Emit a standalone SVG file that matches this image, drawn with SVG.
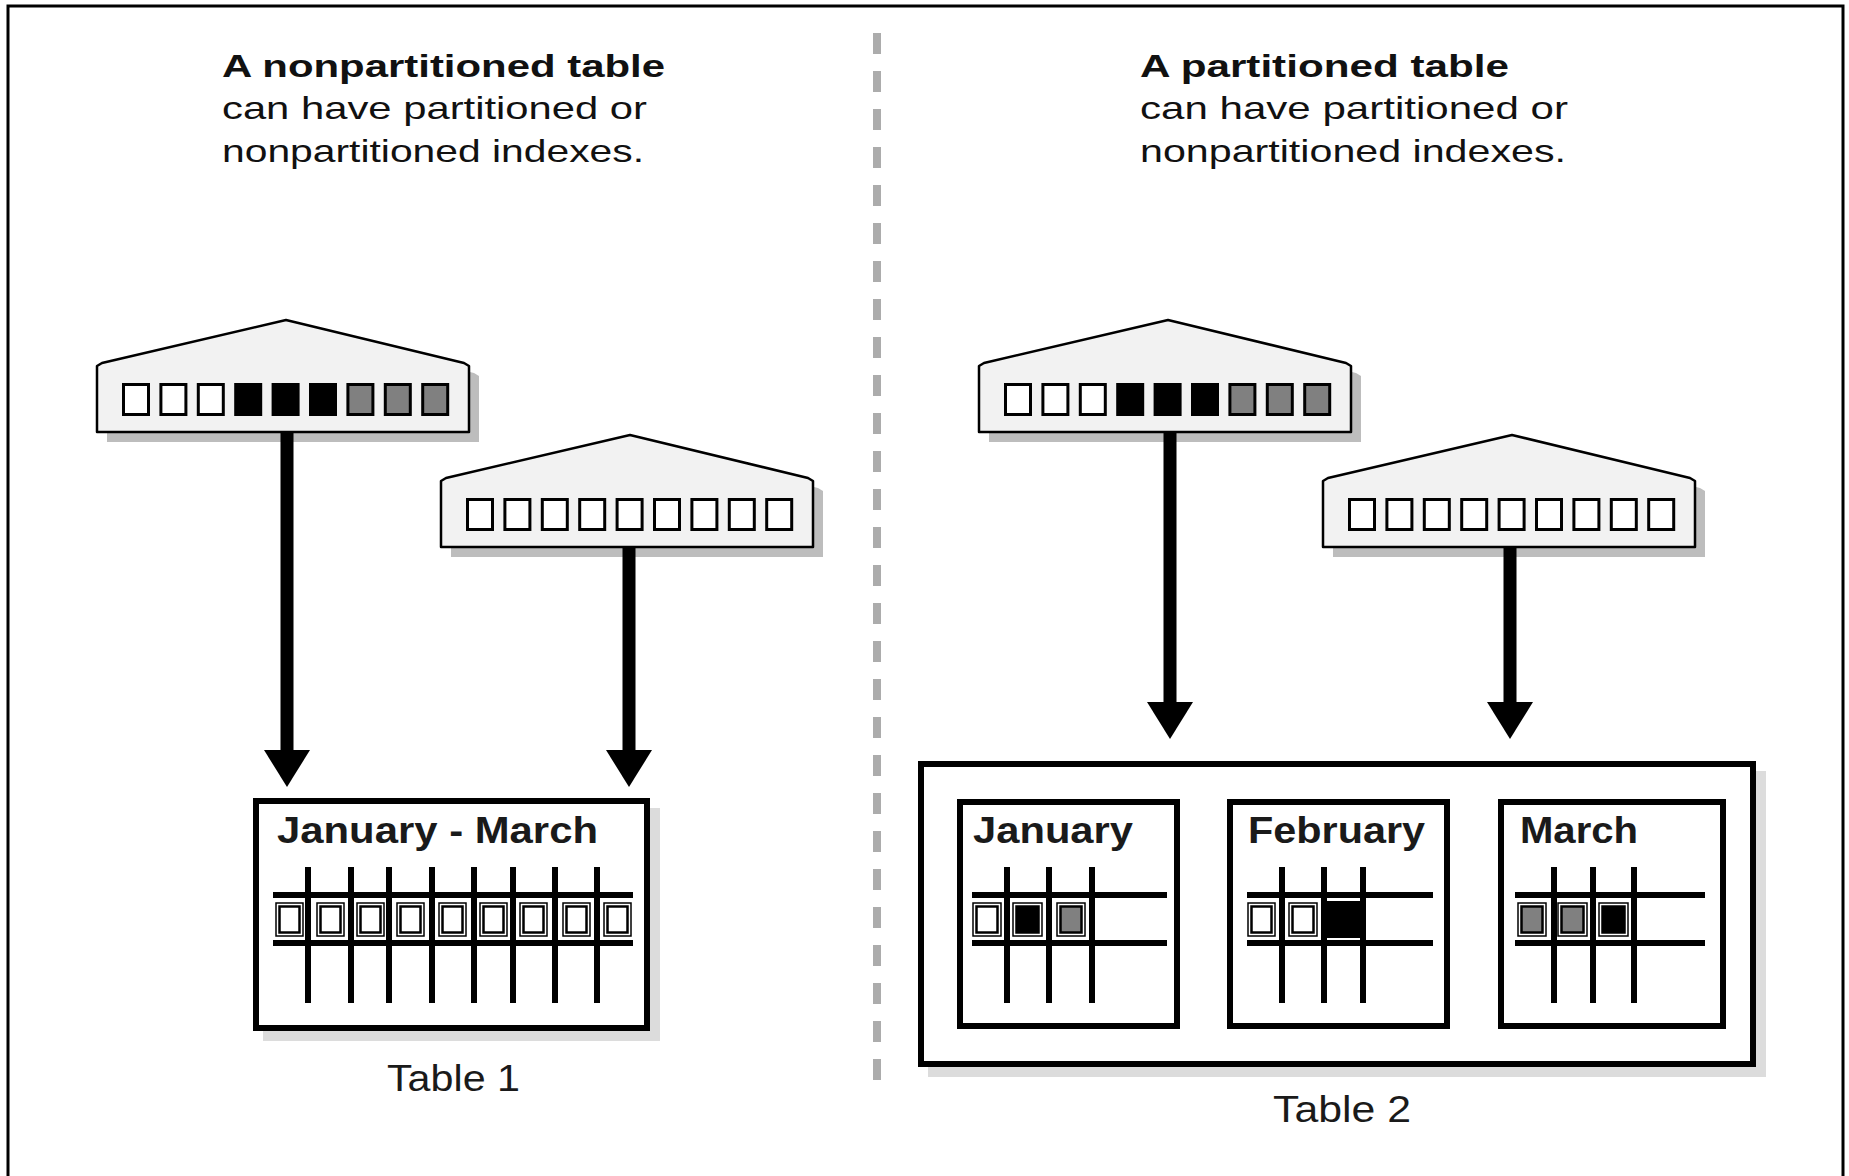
<svg xmlns="http://www.w3.org/2000/svg" xmlns:xlink="http://www.w3.org/1999/xlink" width="1849" height="1176" viewBox="0 0 1849 1176">
  <style>
    .head { font-family: "Liberation Sans", Arial, sans-serif; font-size: 32px; fill: #111; }
    .bold { font-weight: bold; }
    .label { font-family: "Liberation Sans", Arial, sans-serif; font-size: 37px; font-weight: bold; fill: #1a1a1a; }
    .caption { font-family: "Liberation Sans", Arial, sans-serif; font-size: 36px; fill: #1a1a1a; }
    .idx { fill: #f2f2f2; stroke: #000; stroke-width: 2.5; stroke-linejoin: round; }
    .idx-shadow { fill: #bdbdbd; }
    .key { stroke: #000; stroke-width: 3; }
    .w { fill: #fff; }
    .b { fill: #000; }
    .g { fill: #808080; }
    .tbl { fill: #fff; stroke: #000; stroke-width: 6; }
    .tbl-shadow { fill: #dcdcdc; }
    .part { fill: #fff; stroke: #000; stroke-width: 6; }
    .grid line { stroke: #000; stroke-width: 6; }
    .cell-out { fill: #fff; stroke: #000; stroke-width: 1.5; }
    .cell-in { stroke: #000; stroke-width: 2.5; }
    .stem { stroke: #000; stroke-width: 13; fill: none; marker-end: url(#head); }
  </style>
  <defs>
    <marker id="head" markerUnits="userSpaceOnUse" viewBox="0 -24 38 48" refX="0" refY="0" markerWidth="38" markerHeight="48" orient="auto">
      <path d="M0,-23 L37,0 L0,23 Z" fill="#000"/>
    </marker>
    <!-- index outline: flat base, pitched roof -->
    <path id="idx-shape" d="M0,112 L0,46 L5,43 L189,0 L367,43 L372,46 L372,112 Z"/>
  </defs>

  <!-- outer frame -->
  <rect x="8" y="6" width="1835" height="1200" fill="#fff" stroke="#000" stroke-width="3"/>

  <!-- divider between the two halves -->
  <line x1="877" y1="33" x2="877" y2="1085" stroke="#acacac" stroke-width="8" stroke-dasharray="21 17"/>

  <!-- headings -->
  <g id="heading-left">
    <text class="head bold" x="222" y="77" textLength="443" lengthAdjust="spacingAndGlyphs">A nonpartitioned table</text>
    <text class="head" x="222" y="119" textLength="425" lengthAdjust="spacingAndGlyphs">can have partitioned or</text>
    <text class="head" x="222" y="162" textLength="422" lengthAdjust="spacingAndGlyphs">nonpartitioned indexes.</text>
  </g>
  <g id="heading-right">
    <text class="head bold" x="1140" y="77" textLength="369" lengthAdjust="spacingAndGlyphs">A partitioned table</text>
    <text class="head" x="1140" y="119" textLength="428" lengthAdjust="spacingAndGlyphs">can have partitioned or</text>
    <text class="head" x="1140" y="162" textLength="426" lengthAdjust="spacingAndGlyphs">nonpartitioned indexes.</text>
  </g>

  <!-- partitioned index over table 1 -->
  <g id="index-1" transform="translate(97,320)">
    <use xlink:href="#idx-shape" class="idx-shadow" transform="translate(10,10)"/>
    <use xlink:href="#idx-shape" class="idx"/>
    <rect class="key w" x="26.5" y="64.5" width="25" height="30"/>
    <rect class="key w" x="63.9" y="64.5" width="25" height="30"/>
    <rect class="key w" x="101.3" y="64.5" width="25" height="30"/>
    <rect class="key b" x="138.7" y="64.5" width="25" height="30"/>
    <rect class="key b" x="176.1" y="64.5" width="25" height="30"/>
    <rect class="key b" x="213.5" y="64.5" width="25" height="30"/>
    <rect class="key g" x="250.9" y="64.5" width="25" height="30"/>
    <rect class="key g" x="288.3" y="64.5" width="25" height="30"/>
    <rect class="key g" x="325.7" y="64.5" width="25" height="30"/>
  </g>

  <!-- nonpartitioned index over table 1 -->
  <g id="index-2" transform="translate(441,435)">
    <use xlink:href="#idx-shape" class="idx-shadow" transform="translate(10,10)"/>
    <use xlink:href="#idx-shape" class="idx"/>
    <rect class="key w" x="26.5" y="64.5" width="25" height="30"/>
    <rect class="key w" x="63.9" y="64.5" width="25" height="30"/>
    <rect class="key w" x="101.3" y="64.5" width="25" height="30"/>
    <rect class="key w" x="138.7" y="64.5" width="25" height="30"/>
    <rect class="key w" x="176.1" y="64.5" width="25" height="30"/>
    <rect class="key w" x="213.5" y="64.5" width="25" height="30"/>
    <rect class="key w" x="250.9" y="64.5" width="25" height="30"/>
    <rect class="key w" x="288.3" y="64.5" width="25" height="30"/>
    <rect class="key w" x="325.7" y="64.5" width="25" height="30"/>
  </g>

  <!-- partitioned index over table 2 -->
  <g id="index-3" transform="translate(979,320)">
    <use xlink:href="#idx-shape" class="idx-shadow" transform="translate(10,10)"/>
    <use xlink:href="#idx-shape" class="idx"/>
    <rect class="key w" x="26.5" y="64.5" width="25" height="30"/>
    <rect class="key w" x="63.9" y="64.5" width="25" height="30"/>
    <rect class="key w" x="101.3" y="64.5" width="25" height="30"/>
    <rect class="key b" x="138.7" y="64.5" width="25" height="30"/>
    <rect class="key b" x="176.1" y="64.5" width="25" height="30"/>
    <rect class="key b" x="213.5" y="64.5" width="25" height="30"/>
    <rect class="key g" x="250.9" y="64.5" width="25" height="30"/>
    <rect class="key g" x="288.3" y="64.5" width="25" height="30"/>
    <rect class="key g" x="325.7" y="64.5" width="25" height="30"/>
  </g>

  <!-- nonpartitioned index over table 2 -->
  <g id="index-4" transform="translate(1323,435)">
    <use xlink:href="#idx-shape" class="idx-shadow" transform="translate(10,10)"/>
    <use xlink:href="#idx-shape" class="idx"/>
    <rect class="key w" x="26.5" y="64.5" width="25" height="30"/>
    <rect class="key w" x="63.9" y="64.5" width="25" height="30"/>
    <rect class="key w" x="101.3" y="64.5" width="25" height="30"/>
    <rect class="key w" x="138.7" y="64.5" width="25" height="30"/>
    <rect class="key w" x="176.1" y="64.5" width="25" height="30"/>
    <rect class="key w" x="213.5" y="64.5" width="25" height="30"/>
    <rect class="key w" x="250.9" y="64.5" width="25" height="30"/>
    <rect class="key w" x="288.3" y="64.5" width="25" height="30"/>
    <rect class="key w" x="325.7" y="64.5" width="25" height="30"/>
  </g>

  <!-- connectors: drawn over the index shadows -->
  <g id="connectors">
    <path class="stem" d="M287,431 V750"/>
    <path class="stem" d="M629,546 V750"/>
    <path class="stem" d="M1170,431 V702"/>
    <path class="stem" d="M1510,546 V702"/>
  </g>

  <!-- Table 1: one segment holding January to March -->
  <g id="table-1">
    <rect class="tbl-shadow" x="263" y="808" width="397" height="233"/>
    <rect class="tbl" x="256" y="801" width="391" height="227"/>
    <text class="label" x="277" y="843" textLength="321" lengthAdjust="spacingAndGlyphs">January - March</text>
    <g class="grid">
      <line x1="273" y1="895" x2="633" y2="895"/>
      <line x1="273" y1="943" x2="633" y2="943"/>
      <line x1="308" y1="867" x2="308" y2="1003"/>
      <line x1="351" y1="867" x2="351" y2="1003"/>
      <line x1="389" y1="867" x2="389" y2="1003"/>
      <line x1="432" y1="867" x2="432" y2="1003"/>
      <line x1="474" y1="867" x2="474" y2="1003"/>
      <line x1="513" y1="867" x2="513" y2="1003"/>
      <line x1="555" y1="867" x2="555" y2="1003"/>
      <line x1="597" y1="867" x2="597" y2="1003"/>
    </g>
    <g>
      <rect class="cell-out" x="276" y="903" width="27" height="33"/><rect class="cell-in w" x="279.5" y="906.5" width="20" height="26"/>
      <rect class="cell-out" x="317" y="903" width="27" height="33"/><rect class="cell-in w" x="320.5" y="906.5" width="20" height="26"/>
      <rect class="cell-out" x="357" y="903" width="27" height="33"/><rect class="cell-in w" x="360.5" y="906.5" width="20" height="26"/>
      <rect class="cell-out" x="397" y="903" width="27" height="33"/><rect class="cell-in w" x="400.5" y="906.5" width="20" height="26"/>
      <rect class="cell-out" x="439" y="903" width="27" height="33"/><rect class="cell-in w" x="442.5" y="906.5" width="20" height="26"/>
      <rect class="cell-out" x="480" y="903" width="27" height="33"/><rect class="cell-in w" x="483.5" y="906.5" width="20" height="26"/>
      <rect class="cell-out" x="520" y="903" width="27" height="33"/><rect class="cell-in w" x="523.5" y="906.5" width="20" height="26"/>
      <rect class="cell-out" x="563" y="903" width="27" height="33"/><rect class="cell-in w" x="566.5" y="906.5" width="20" height="26"/>
      <rect class="cell-out" x="604" y="903" width="27" height="33"/><rect class="cell-in w" x="607.5" y="906.5" width="20" height="26"/>
    </g>
    <text class="caption" x="387" y="1091" textLength="133" lengthAdjust="spacingAndGlyphs">Table 1</text>
  </g>

  <!-- Table 2: three monthly partitions -->
  <g id="table-2">
    <rect class="tbl-shadow" x="928" y="771" width="838" height="306"/>
    <rect class="tbl" x="921" y="764" width="832" height="300"/>
    <text class="caption" x="1273" y="1122" textLength="138" lengthAdjust="spacingAndGlyphs">Table 2</text>
  </g>

  <g id="partition-january">
    <rect class="part" x="960" y="802" width="217" height="224"/>
    <text class="label" x="973" y="843" textLength="160" lengthAdjust="spacingAndGlyphs">January</text>
    <g class="grid">
      <line x1="972" y1="895" x2="1167" y2="895"/>
      <line x1="972" y1="943" x2="1167" y2="943"/>
      <line x1="1007" y1="867" x2="1007" y2="1003"/>
      <line x1="1049" y1="867" x2="1049" y2="1003"/>
      <line x1="1092" y1="867" x2="1092" y2="1003"/>
    </g>
    <rect class="cell-out" x="973" y="903" width="28" height="33"/><rect class="cell-in w" x="976.5" y="906.5" width="21" height="26"/>
    <rect class="cell-out" x="1013" y="903" width="29" height="33"/><rect class="cell-in b" x="1016.5" y="906.5" width="22" height="26"/>
    <rect class="cell-out" x="1057" y="903" width="28" height="33"/><rect class="cell-in g" x="1060.5" y="906.5" width="21" height="26"/>
  </g>

  <g id="partition-february">
    <rect class="part" x="1230" y="802" width="217" height="224"/>
    <text class="label" x="1248" y="843" textLength="177" lengthAdjust="spacingAndGlyphs">February</text>
    <g class="grid">
      <line x1="1247" y1="895" x2="1433" y2="895"/>
      <line x1="1247" y1="943" x2="1433" y2="943"/>
      <line x1="1282" y1="867" x2="1282" y2="1003"/>
      <line x1="1324" y1="867" x2="1324" y2="1003"/>
      <line x1="1363" y1="867" x2="1363" y2="1003"/>
    </g>
    <rect class="cell-out" x="1248" y="903" width="27" height="33"/><rect class="cell-in w" x="1251.5" y="906.5" width="20" height="26"/>
    <rect class="cell-out" x="1289" y="903" width="28" height="33"/><rect class="cell-in w" x="1292.5" y="906.5" width="21" height="26"/>
    <rect class="b" x="1327" y="901" width="39" height="37"/>
  </g>

  <g id="partition-march">
    <rect class="part" x="1501" y="802" width="222" height="224"/>
    <text class="label" x="1520" y="843" textLength="118" lengthAdjust="spacingAndGlyphs">March</text>
    <g class="grid">
      <line x1="1515" y1="895" x2="1705" y2="895"/>
      <line x1="1515" y1="943" x2="1705" y2="943"/>
      <line x1="1554" y1="867" x2="1554" y2="1003"/>
      <line x1="1593" y1="867" x2="1593" y2="1003"/>
      <line x1="1634" y1="867" x2="1634" y2="1003"/>
    </g>
    <rect class="cell-out" x="1518" y="903" width="28" height="33"/><rect class="cell-in g" x="1521.5" y="906.5" width="21" height="26"/>
    <rect class="cell-out" x="1558" y="903" width="29" height="33"/><rect class="cell-in g" x="1561.5" y="906.5" width="22" height="26"/>
    <rect class="cell-out" x="1599" y="903" width="29" height="33"/><rect class="cell-in b" x="1602.5" y="906.5" width="22" height="26"/>
  </g>
</svg>
